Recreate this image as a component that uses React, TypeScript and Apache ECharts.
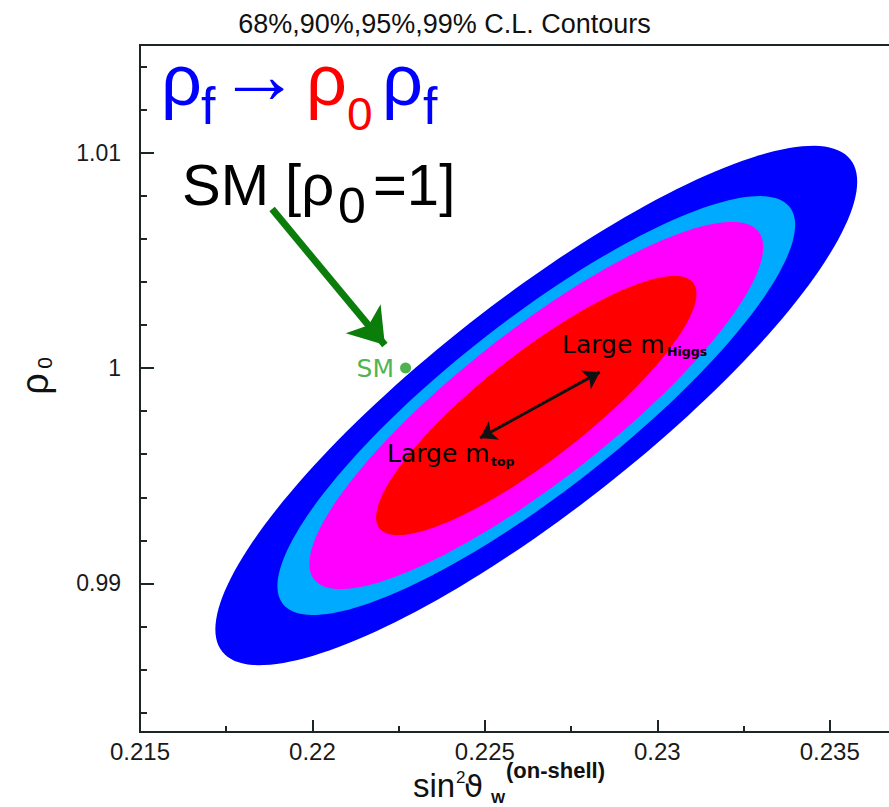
import React, { useEffect, useRef } from 'react';
import * as echarts from 'echarts';

const chartTitle = '68%,90%,95%,99% C.L. Contours';
const xTickValues = [0.215, 0.22, 0.225, 0.23, 0.235];
const yTickValues = [0.99, 1, 1.01];
const xRange = [0.215, 0.2375];
const yRange = [0.9831, 1.015];

// Fitted Gaussian in (sin^2 theta_W, rho_0)
const fitCenter = [0.22649, 0.99826];
const fitSigma = [0.003066, 0.003973];
const fitCorrelation = 0.862;
const clLevels = ['99%', '95%', '90%', '68%'];
const clRadius = [3.035, 2.448, 2.146, 1.515];
const clColors = ['#0000ff', '#00aaff', '#ff00ff', '#ff0000'];

const smPoint = [0.2227, 1.0];
const smArrow = [[0.21883, 1.00738], [0.2221, 1.00107]];
const massArrow = [[0.22486, 0.99675], [0.22833, 0.99981]];

const FONT = "'Liberation Sans', Arial, sans-serif";
const GFONT = "'DejaVu Sans', sans-serif";

function isTick(v: number, list: number[]) {
  const t = list.find((x) => Math.abs(x - v) < 1e-7);
  return t === undefined ? '' : String(t);
}

function txt(text: string, x: number, baseline: number, fs: number, color: string, extra: any = {}) {
  return {
    type: 'text',
    x,
    y: baseline - 0.35 * fs,
    z: 100,
    silent: true,
    style: {
      text,
      fontSize: fs,
      fontFamily: extra.fontFamily || FONT,
      fontWeight: extra.fontWeight || 'normal',
      fill: color,
      align: extra.align || 'left',
      verticalAlign: 'middle',
    },
  };
}

export default function App() {
  const ref = useRef<HTMLDivElement>(null);
  useEffect(() => {
    const chart = echarts.init(ref.current!, undefined, { renderer: 'svg' });
    const axisColor = '#1c2626';
    const contourData = clRadius.map((k, i) => [fitCenter[0], fitCenter[1], k, i]);
    const option: any = {
      animation: false,
      backgroundColor: '#ffffff',
      title: {
        text: chartTitle,
        left: 'center',
        top: 5,
        textStyle: { fontSize: 27, fontWeight: 'normal', color: '#111', fontFamily: FONT },
      },
      grid: {
        left: 140,
        top: 45,
        width: 776,
        height: 687,
        outerBoundsMode: 'none',
        containLabel: false,
        show: true,
        borderColor: axisColor,
        borderWidth: 2,
        backgroundColor: 'transparent',
      },
      xAxis: [
        {
          type: 'value',
          position: 'bottom',
          min: xRange[0],
          max: xRange[1],
          minInterval: 0.005,
          maxInterval: 0.005,
          axisLine: { show: true, lineStyle: { color: axisColor, width: 2 } },
          axisTick: { show: true, inside: true, length: 12, lineStyle: { color: axisColor, width: 2 } },
          axisLabel: {
            fontSize: 24,
            color: '#1a1a1a',
            fontFamily: FONT,
            margin: 7,
            formatter: (v: number) => isTick(v, xTickValues),
          },
          splitLine: { show: false },
        },
        {
          type: 'value',
          position: 'bottom',
          min: xRange[0],
          max: xRange[1],
          minInterval: 0.0025,
          maxInterval: 0.0025,
          axisLine: { show: false },
          axisTick: { show: true, inside: true, length: 6, lineStyle: { color: axisColor, width: 2 } },
          axisLabel: { show: false },
          splitLine: { show: false },
        },
      ],
      yAxis: [
        {
          type: 'value',
          position: 'left',
          min: yRange[0],
          max: yRange[1],
          minInterval: 0.01,
          maxInterval: 0.01,
          axisLine: { show: true, lineStyle: { color: axisColor, width: 2 } },
          axisTick: { show: true, inside: true, length: 14, lineStyle: { color: axisColor, width: 2 } },
          axisLabel: {
            fontSize: 23,
            color: '#1a1a1a',
            fontFamily: FONT,
            margin: 19,
            formatter: (v: number) => isTick(v, yTickValues),
          },
          splitLine: { show: false },
        },
        {
          type: 'value',
          position: 'left',
          min: yRange[0],
          max: yRange[1],
          minInterval: 0.002,
          maxInterval: 0.002,
          axisLine: { show: false },
          axisTick: { show: true, inside: true, length: 7, lineStyle: { color: axisColor, width: 2 } },
          axisLabel: { show: false },
          splitLine: { show: false },
        },
      ],
      series: [
        {
          type: 'custom',
          name: 'contours',
          coordinateSystem: 'cartesian2d',
          xAxisIndex: 0,
          yAxisIndex: 0,
          silent: true,
          data: contourData,
          encode: { x: 0, y: 1 },
          renderItem: (params: any, api: any) => {
            const cx = api.value(0);
            const cy = api.value(1);
            const k = api.value(2);
            const idx = api.value(3);
            const pts: number[][] = [];
            const n = 180;
            const s = Math.sqrt(1 - fitCorrelation * fitCorrelation);
            for (let j = 0; j < n; j++) {
              const t = (j / n) * Math.PI * 2;
              const dx = k * fitSigma[0] * Math.cos(t);
              const dy = k * fitSigma[1] * (fitCorrelation * Math.cos(t) + s * Math.sin(t));
              pts.push(api.coord([cx + dx, cy + dy]));
            }
            return {
              type: 'polygon',
              shape: { points: pts },
              style: { fill: clColors[idx], stroke: null, lineWidth: 0 },
            };
          },
          z: 1,
        },
        {
          type: 'scatter',
          name: 'SM',
          xAxisIndex: 0,
          yAxisIndex: 0,
          data: [smPoint],
          symbolSize: 11,
          itemStyle: { color: '#22a022' },
          label: {
            show: true,
            position: 'left',
            distance: 6,
            formatter: 'SM',
            color: '#22a022',
            fontSize: 25,
            fontFamily: GFONT,
          },
          z: 5,
          markLine: {
            silent: true,
            label: { show: false },
            data: [
              [
                { coord: smArrow[0], symbol: 'none', lineStyle: { color: '#0a7d0a', width: 7, type: 'solid' } },
                { coord: smArrow[1], symbol: 'arrow', symbolSize: 34 },
              ],
              [
                { coord: massArrow[0], symbol: 'arrow', symbolSize: 16, lineStyle: { color: '#111', width: 3, type: 'solid' } },
                { coord: massArrow[1], symbol: 'arrow', symbolSize: 16 },
              ],
            ],
          },
        },
      ],
      graphic: [
        // rho_f -> rho_0 rho_f
        txt('\u03c1', 161, 105, 72, '#0000ff'),
        txt('f', 201, 124, 52, '#0000ff'),
        txt('\u2192', 218, 103, 82, '#0000ff'),
        txt('\u03c1', 306, 105, 72, '#ff0000'),
        txt('0', 347, 130, 46, '#ff0000'),
        txt('\u03c1', 382, 105, 72, '#0000ff'),
        txt('f', 423, 124, 52, '#0000ff'),
        // SM [rho_0 = 1]
        txt('SM [\u03c1', 182, 205, 58, '#000'),
        txt('0', 338, 223, 50, '#000'),
        txt('=1]', 373, 205, 58, '#000'),
        // mass annotations
        txt('Large m', 562, 353, 25, '#000', { fontFamily: GFONT }),
        txt('Higgs', 667, 356, 12.5, '#000', { fontFamily: GFONT, fontWeight: 'bold' }),
        txt('Large m', 387, 462, 25, '#000', { fontFamily: GFONT }),
        txt('top', 491, 466, 12.5, '#000', { fontFamily: GFONT, fontWeight: 'bold' }),
        // x axis name
        txt('sin', 413, 797, 33, '#111'),
        txt('2', 456, 783, 17, '#111'),
        txt('\u03d1', 464, 797, 31, '#111', { fontFamily: GFONT }),
        txt('W', 491, 803, 15, '#111', { fontWeight: 'bold' }),
        txt('(on-shell)', 506, 778, 22, '#111', { fontWeight: 'bold' }),
        // y axis name (rotated)
        {
          type: 'group',
          x: 35,
          y: 374,
          rotation: Math.PI / 2,
          z: 100,
          silent: true,
          children: [
            {
              type: 'text',
              x: -10,
              y: 0,
              z: 100,
              style: { text: '\u03c1', fontSize: 38, fontFamily: FONT, fill: '#111', align: 'center', verticalAlign: 'middle' },
            },
            {
              type: 'text',
              x: 11,
              y: 9,
              z: 100,
              style: { text: '0', fontSize: 21, fontFamily: FONT, fill: '#111', align: 'center', verticalAlign: 'middle' },
            },
          ],
        },
      ],
    };
    chart.setOption(option);
    return () => chart.dispose();
  }, []);
  return (
    <div style={{ position: 'fixed', left: 0, top: 0, width: 889, height: 807, background: '#fff' }}>
      <div ref={ref} style={{ width: 889, height: 807 }} />
    </div>
  );
}
